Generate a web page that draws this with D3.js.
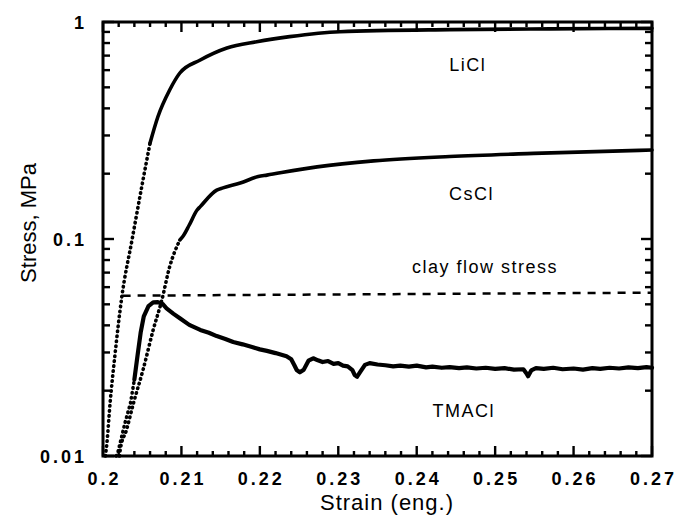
<!DOCTYPE html>
<html>
<head>
<meta charset="utf-8">
<script src="https://cdn.jsdelivr.net/npm/d3@7"></script>
<style>
  body { margin: 0; background: #fff; }
  text { font-family: "Liberation Sans", Arial, Helvetica, sans-serif; fill: #000; }
</style>
</head>
<body>
<script>
// Define SVG area dimensions
var svgWidth = 681;
var svgHeight = 522;

// Define the chart's margins as an object
var margin = {
  top: 22,
  right: 29,
  bottom: 66,
  left: 103
};

var chartWidth = svgWidth - margin.left - margin.right;
var chartHeight = svgHeight - margin.top - margin.bottom;

// Data: strain (eng.) and stress (MPa)
var liclStrain = [0.2003, 0.2005, 0.2009, 0.2015, 0.2024, 0.2037, 0.2051, 0.2060, 0.2070, 0.2085,
  0.2098, 0.2124, 0.2158, 0.2196, 0.2238, 0.2302, 0.2442, 0.2570, 0.2700];
var liclStress = [0.0100, 0.0115, 0.0175, 0.0287, 0.0542, 0.099, 0.187, 0.277, 0.366, 0.486,
  0.582, 0.668, 0.759, 0.811, 0.856, 0.902, 0.922, 0.930, 0.935];

var csclStrain = [0.2021, 0.2022, 0.2030, 0.2039, 0.2051, 0.2064, 0.2075, 0.2085, 0.2098, 0.2102,
  0.2110, 0.2120, 0.2124, 0.2145, 0.2153, 0.2175, 0.2198, 0.2209, 0.2273, 0.2345, 0.2442, 0.2549, 0.2700];
var csclStress = [0.0100, 0.0107, 0.0132, 0.0176, 0.0249, 0.0381, 0.0523, 0.0745, 0.0990, 0.103,
  0.116, 0.136, 0.141, 0.168, 0.172, 0.181, 0.194, 0.197, 0.215, 0.229, 0.240, 0.248, 0.257];

var tmaclStrain = [0.2017, 0.2019, 0.2028, 0.2035, 0.2040, 0.2044, 0.2048, 0.2052, 0.2058, 0.2064,
  0.2070, 0.2076, 0.2081, 0.2090, 0.2098, 0.2110, 0.2124, 0.2135, 0.2145, 0.2156, 0.2166, 0.2178,
  0.2190, 0.2200, 0.2209, 0.2220, 0.2234, 0.2240, 0.2244, 0.2247, 0.2251, 0.2256, 0.2262, 0.2268,
  0.2274, 0.2280, 0.2287, 0.2294, 0.2300, 0.2306, 0.2312, 0.2318, 0.2321, 0.2324, 0.2328, 0.2334,
  0.2340, 0.2350, 0.2360, 0.2370, 0.2379, 0.2390, 0.2400, 0.2412, 0.2420, 0.2432, 0.2442, 0.2454,
  0.2464, 0.2476, 0.2488, 0.2500, 0.2512, 0.2524, 0.2536, 0.2540, 0.2542, 0.2546, 0.2552, 0.2562,
  0.2574, 0.2586, 0.2600, 0.2612, 0.2624, 0.2634, 0.2646, 0.2658, 0.2670, 0.2682, 0.2693, 0.2700];
var tmaclStress = [0.0100, 0.0104, 0.0142, 0.0175, 0.0225, 0.0290, 0.0370, 0.0440, 0.0490, 0.0510,
  0.0512, 0.0502, 0.0479, 0.0452, 0.0431, 0.0402, 0.0381, 0.0370, 0.0357, 0.0346, 0.0335, 0.0327,
  0.0318, 0.0310, 0.0305, 0.0298, 0.0288, 0.0279, 0.0262, 0.0249, 0.0243, 0.0250, 0.0275, 0.0282,
  0.0276, 0.0271, 0.0274, 0.0266, 0.0268, 0.0261, 0.0259, 0.0249, 0.0236, 0.0232, 0.0244, 0.0263,
  0.0268, 0.0264, 0.0262, 0.0259, 0.0261, 0.0258, 0.0261, 0.0256, 0.0258, 0.0255, 0.0257, 0.0254,
  0.0256, 0.0253, 0.0255, 0.0252, 0.0254, 0.0250, 0.0251, 0.0240, 0.0233, 0.0248, 0.0254, 0.0252,
  0.0255, 0.0251, 0.0253, 0.0250, 0.0254, 0.0252, 0.0255, 0.0253, 0.0256, 0.0254, 0.0257, 0.0255];

// clay flow stress reference (dashed)
var clayStrain = [0.2025, 0.2700];
var clayStress = [0.0548, 0.0566];

// tick values
var xMajorTicks = [0.20, 0.21, 0.22, 0.23, 0.24, 0.25, 0.26, 0.27];
var xTickLabels = ["0.2", "0.21", "0.22", "0.23", "0.24", "0.25", "0.26", "0.27"];
var yMajorTicks = [0.01, 0.1, 1];
var yTickLabels = ["0.01", "0.1", "1"];

// curve labels
var curveLabels = ["LiCl", "CsCl", "clay flow stress", "TMACl"];
var labelStrain = [0.2465, 0.2470, 0.2487, 0.2460];
var labelStress = [0.594, 0.151, 0.0697, 0.0151];

// strain below which each curve prints as dots
var dotLimit = { licl: 0.2066, cscl: 0.2101, tmacl: 0.2040 };

var svg = d3.select("body")
  .append("svg")
  .attr("width", svgWidth)
  .attr("height", svgHeight);

var chartGroup = svg.append("g")
  .attr("transform", `translate(${margin.left}, ${margin.top})`);

// scales
var xScale = d3.scaleLinear()
  .domain([0.2, 0.27])
  .range([0, chartWidth]);

var yScale = d3.scaleLog()
  .domain([0.01, 1])
  .range([chartHeight, 0]);

// frame
chartGroup.append("path")
  .attr("d", `M0,0H${chartWidth}V${chartHeight}H0Z`)
  .style("fill", "none")
  .attr("stroke", "#000")
  .attr("stroke-width", 3);

// minor ticks
var xMinor = d3.range(0, 36).map(i => 0.2 + i * 0.002).filter(v => Math.round(v * 1000) % 10 !== 0);
var yMinor = [];
[0.01, 0.1].forEach(function(d) {
  for (var k = 2; k <= 9; k++) yMinor.push(d * k);
});

// inward ticks on all four sides, drawn as small filled rectangles
function tickMarks(values, len, side) {
  var isX = side === "bottom" || side === "top";
  chartGroup.append("g").selectAll("rect")
    .data(values)
    .enter()
    .append("rect")
    .attr("x", d => isX ? xScale(d) - 1.2 : (side === "left" ? 0 : chartWidth - len))
    .attr("y", d => isX ? (side === "top" ? 0 : chartHeight - len) : yScale(d) - 1.2)
    .attr("width", isX ? 2.4 : len)
    .attr("height", isX ? len : 2.4)
    .style("fill", "#000");
}

["bottom", "top"].forEach(function(side) {
  tickMarks(xMajorTicks, 10, side);
  tickMarks(xMinor, 5, side);
});
["left", "right"].forEach(function(side) {
  tickMarks(yMajorTicks, 11, side);
  tickMarks(yMinor, 7, side);
});

// tick labels
chartGroup.append("g").selectAll("text")
  .data(xMajorTicks)
  .enter()
  .append("text")
  .attr("x", d => xScale(d) + 1.5)
  .attr("y", chartHeight + 29)
  .attr("text-anchor", "middle")
  .attr("font-size", 18)
  .attr("font-weight", "bold")
  .attr("letter-spacing", "3px")
  .text((d, i) => xTickLabels[i]);

chartGroup.append("g").selectAll("text")
  .data(yMajorTicks)
  .enter()
  .append("text")
  .attr("x", -16)
  .attr("y", d => yScale(d) + 7)
  .attr("text-anchor", "end")
  .attr("font-size", 18)
  .attr("font-weight", "bold")
  .attr("letter-spacing", "3px")
  .text((d, i) => yTickLabels[i]);

function toPoints(xs, ys) {
  return xs.map((s, i) => ({ s: s, v: ys[i] }));
}

function drawCurve(xs, ys, limit, width, curve) {
  var drawLine = d3.line()
    .x(d => xScale(d.s))
    .y(d => yScale(d.v))
    .curve(curve);
  var pts = toPoints(xs, ys);
  var dotted = pts.filter(d => d.s <= limit);
  var solid = pts.filter(d => d.s >= limit);
  if (dotted.length && solid.length && solid[0].s !== dotted[dotted.length - 1].s) {
    solid.unshift(dotted[dotted.length - 1]);
  }
  chartGroup.append("path")
    .attr("d", drawLine(dotted))
    .style("fill", "none")
    .attr("stroke", "#000")
    .attr("stroke-width", 3.6)
    .attr("stroke-linecap", "round")
    .attr("stroke-dasharray", "0.5,4.5");
  chartGroup.append("path")
    .attr("d", drawLine(solid))
    .style("fill", "none")
    .attr("stroke", "#000")
    .attr("stroke-width", width)
    .attr("stroke-linejoin", "round")
    .attr("stroke-linecap", "round");
}

drawCurve(liclStrain, liclStress, dotLimit.licl, 3.6, d3.curveMonotoneX);
drawCurve(csclStrain, csclStress, dotLimit.cscl, 3.6, d3.curveMonotoneX);
drawCurve(tmaclStrain, tmaclStress, dotLimit.tmacl, 4.2, d3.curveLinear);

// clay flow stress dashed line
chartGroup.append("path")
  .attr("d", d3.line().x(d => xScale(d.s)).y(d => yScale(d.v))(toPoints(clayStrain, clayStress)))
  .style("fill", "none")
  .attr("stroke", "#000")
  .attr("stroke-width", 2.5)
  .attr("stroke-dasharray", "8,7");

// curve labels
chartGroup.selectAll(".curve-label")
  .data(curveLabels)
  .enter()
  .append("text")
  .attr("class", "curve-label")
  .attr("x", (d, i) => xScale(labelStrain[i]))
  .attr("y", (d, i) => yScale(labelStress[i]))
  .attr("text-anchor", "middle")
  .attr("font-size", 18)
  .attr("letter-spacing", "1.5px")
  .text(d => d);

// axis titles
svg.append("text")
  .attr("x", 387)
  .attr("y", 510)
  .attr("text-anchor", "middle")
  .attr("font-size", 22)
  .attr("letter-spacing", "1px")
  .text("Strain (eng.)");

svg.append("text")
  .attr("transform", "translate(36, 223) rotate(-90)")
  .attr("text-anchor", "middle")
  .attr("font-size", 22)
  .text("Stress, MPa");
</script>
</body>
</html>
